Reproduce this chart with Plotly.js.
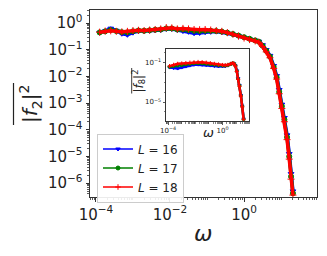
<!DOCTYPE html>
<html>
<head>
<meta charset="utf-8">
<script src="https://cdn.plot.ly/plotly-3.0.1.min.js"></script>
<style>html,body{margin:0;padding:0;background:#fff;}#chart{width:327px;height:256px;}</style>
</head>
<body>
<div id="chart"></div>
<script>
// ---- Data ----
const seriesNames = ["<i>L</i> = 16", "<i>L</i> = 17", "<i>L</i> = 18"];
const seriesColors = ["#0000ff", "#008000", "#ff0000"];

// main panel: omega
const omegaMain = [1.26e-4,1.78e-4,2.51e-4,3.55e-4,5.01e-4,7.08e-4,1.0e-3,1.41e-3,2.0e-3,2.82e-3,3.98e-3,5.62e-3,7.94e-3,1.12e-2,1.58e-2,2.24e-2,3.16e-2,4.47e-2,6.31e-2,8.91e-2,0.126,0.178,0.251,0.355,0.501,0.708,1.0,1.41,2.0,2.51,3.16,3.98,5.01,6.31,7.59,8.91,10.5,12.3,14.5,16.6,18.6,20.9];
// |f_2|^2 for L = 16, 17, 18
const f2L16 = [0.437,0.501,0.631,0.525,0.398,0.363,0.437,0.501,0.501,0.513,0.537,0.550,0.603,0.603,0.550,0.501,0.468,0.417,0.427,0.457,0.468,0.479,0.457,0.417,0.372,0.331,0.288,0.251,0.224,0.204,0.151,0.1,0.0603,0.0251,0.0105,0.00316,0.000891,0.000282,6.31e-5,1.26e-5,2.24e-6,5.01e-7];
const f2L17 = [0.447,0.490,0.550,0.501,0.457,0.447,0.490,0.525,0.513,0.537,0.562,0.575,0.631,0.631,0.575,0.575,0.550,0.513,0.501,0.513,0.513,0.501,0.479,0.437,0.389,0.339,0.295,0.257,0.224,0.200,0.141,0.0912,0.0550,0.0224,0.00912,0.00263,0.000759,0.000240,5.25e-5,1.0e-5,1.78e-6,4.17e-7];
const f2L18 = [0.457,0.501,0.513,0.490,0.468,0.490,0.525,0.537,0.525,0.550,0.575,0.603,0.676,0.661,0.603,0.631,0.603,0.575,0.562,0.575,0.550,0.525,0.490,0.437,0.380,0.324,0.275,0.240,0.214,0.191,0.132,0.0832,0.0501,0.0200,0.00794,0.00224,0.000631,0.000200,4.27e-5,7.94e-6,1.41e-6,3.55e-7];

// inset: omega and |f_8|^2
const omegaInset = [1.26e-4,2.51e-4,5.01e-4,1.0e-3,2.0e-3,3.98e-3,7.94e-3,0.0158,0.0316,0.0631,0.126,0.251,0.501,1.0,1.58,2.51,3.98,5.62,7.08,8.91,11.2,14.1,17.8,22.4,28.2,35.5];
const f8L16 = [0.0316,0.0282,0.0251,0.0316,0.0398,0.0501,0.0603,0.0631,0.0603,0.0562,0.0501,0.0447,0.0417,0.0417,0.0437,0.0501,0.0708,0.0891,0.0794,0.0501,0.0158,0.00251,5.01e-4,5.01e-5,3.98e-6,2.0e-7];
const f8L17 = [0.0380,0.0447,0.0501,0.0562,0.0661,0.0759,0.0871,0.0891,0.0851,0.0794,0.0708,0.0631,0.0562,0.0501,0.0501,0.0550,0.0724,0.0891,0.0794,0.0479,0.0141,0.00224,4.47e-4,4.47e-5,3.55e-6,1.78e-7];
const f8L18 = [0.0447,0.0603,0.0759,0.0832,0.0912,0.1,0.110,0.117,0.112,0.1,0.0891,0.0759,0.0661,0.0575,0.0550,0.0603,0.0759,0.0891,0.0759,0.0447,0.0126,0.00200,3.98e-4,3.98e-5,3.16e-6,1.58e-7];

// tick labels
const xTickVals = [1e-4,1e-2,1];
const xTickText = ["10<sup>\u22124</sup>","10<sup>\u22122</sup>","10<sup>0</sup>"];
const yTickVals = [1e-6,1e-5,1e-4,1e-3,1e-2,1e-1,1];
const yTickText = ["10<sup>\u22126</sup>","10<sup>\u22125</sup>","10<sup>\u22124</sup>","10<sup>\u22123</sup>","10<sup>\u22122</sup>","10<sup>\u22121</sup>","10<sup>0</sup>"];
const insetXTickVals = [1e-4,1];
const insetXTickText = ["10<sup>\u22124</sup>","10<sup>0</sup>"];
const insetYTickVals = [1e-5,1e-1];
const insetYTickText = ["10<sup>\u22125</sup>","10<sup>\u22121</sup>"];

// ---- minor tick positions (m x 10^k, skipping labelled majors) ----
function minorTicks(k0, k1, subs, skip) {
  const v = [];
  for (let k = k0; k <= k1; k++) for (const m of subs) {
    const t = m * Math.pow(10, k);
    if (!(m === 1 && skip.indexOf(k) >= 0)) v.push(t);
  }
  return v;
}
const allSubs = [1,2,3,4,5,6,7,8,9];

const mainY = [f2L16, f2L17, f2L18];
const insetY = [f8L16, f8L17, f8L18];
const symbols = ["triangle-down", "circle", "cross-thin"];

const traces = [];
for (let i = 0; i < 3; i++) {
  traces.push({
    x: omegaMain, y: mainY[i], name: seriesNames[i], showlegend: false,
    type: "scatter", mode: "lines+markers",
    line: {color: seriesColors[i], width: 3.5},
    marker: {color: seriesColors[i], size: 5, symbol: symbols[i], line: {color: seriesColors[i], width: 1}},
    xaxis: "x", yaxis: "y"
  });
}
for (let i = 0; i < 3; i++) {
  traces.push({
    x: omegaInset, y: insetY[i], name: seriesNames[i], showlegend: false,
    type: "scatter", mode: "lines+markers",
    line: {color: seriesColors[i], width: 2.5},
    marker: {color: seriesColors[i], size: 3, symbol: symbols[i], line: {color: seriesColors[i], width: 1}},
    xaxis: "x2", yaxis: "y2"
  });
}
// legend-only entries (thin line + small marker, as in the reference legend)
for (let i = 0; i < 3; i++) {
  traces.push({
    x: [null], y: [null], name: seriesNames[i], showlegend: true,
    type: "scatter", mode: "lines+markers",
    line: {color: seriesColors[i], width: 1.5},
    marker: {color: seriesColors[i], size: 4, symbol: symbols[i], line: {color: seriesColors[i], width: 1}},
    xaxis: "x", yaxis: "y"
  });
}

const axColor = "#333333";
const font = "DejaVu Sans";

const W = 327, H = 256, mL = 90, mR = 10, mT = 10, mB = 59;
const pw = W - mL - mR, ph = H - mT - mB;
const px = v => (v - mL) / pw;
const py = v => (H - mB - v) / ph;

const layout = {
  width: W, height: H,
  margin: {l: mL, r: mR, t: mT, b: mB, pad: 0},
  paper_bgcolor: "#fff", plot_bgcolor: "#fff",
  font: {family: font, color: "#222", size: 12},
  showlegend: true,
  legend: {
    x: px(97), y: py(133.5), xanchor: "left", yanchor: "top",
    bgcolor: "rgba(255,255,255,0.9)", bordercolor: "#cccccc", borderwidth: 1,
    font: {family: font, size: 12, color: "#222"},
    itemwidth: 30, tracegroupgap: 0
  },
  xaxis: {
    type: "log", range: [-4.16, 1.97], domain: [0, 1], anchor: "y",
    showline: true, mirror: true, linecolor: axColor, linewidth: 1,
    showgrid: false, zeroline: false,
    ticks: "outside", ticklen: 3.5, tickwidth: 1, tickcolor: axColor,
    tickmode: "array", tickvals: xTickVals, ticktext: xTickText,
    tickfont: {family: font, size: 15, color: "#222"},
    minor: {tickmode: "array", tickvals: minorTicks(-5, 1, allSubs, [-4, -2, 0]), ticks: "outside", ticklen: 2, tickwidth: 0.8, tickcolor: axColor, showgrid: false}
  },
  yaxis: {
    type: "log", range: [-6.52, 0.49], domain: [0, 1], anchor: "x",
    showline: true, mirror: true, linecolor: axColor, linewidth: 1,
    showgrid: false, zeroline: false,
    ticks: "outside", ticklen: 3.5, tickwidth: 1, tickcolor: axColor,
    tickmode: "array", tickvals: yTickVals, ticktext: yTickText,
    tickfont: {family: font, size: 15, color: "#222"},
    minor: {tickmode: "array", tickvals: minorTicks(-7, 0, [2,3,4,5,6,7,8,9], []), ticks: "outside", ticklen: 2, tickwidth: 0.8, tickcolor: axColor, showgrid: false}
  },
  xaxis2: {
    type: "log", range: [-4.16, 1.97], domain: [px(166), px(249.3)], anchor: "y2",
    showline: true, mirror: true, linecolor: axColor, linewidth: 1,
    showgrid: false, zeroline: false,
    ticks: "outside", ticklen: 2.5, tickwidth: 0.8, tickcolor: axColor,
    tickmode: "array", tickvals: insetXTickVals, ticktext: insetXTickText,
    tickfont: {family: font, size: 7, color: "#222"},
    minor: {tickmode: "array", tickvals: minorTicks(-5, 1, allSubs, [-4, 0]), ticks: "outside", ticklen: 1.5, tickwidth: 0.6, tickcolor: axColor, showgrid: false}
  },
  yaxis2: {
    type: "log", range: [-6.93, 0.42], domain: [py(121), py(48.7)], anchor: "x2",
    showline: true, mirror: true, linecolor: axColor, linewidth: 1,
    showgrid: false, zeroline: false,
    ticks: "outside", ticklen: 2.5, tickwidth: 0.8, tickcolor: axColor,
    tickmode: "array", tickvals: insetYTickVals, ticktext: insetYTickText,
    tickfont: {family: font, size: 7, color: "#222"},
    minor: {tickmode: "array", tickvals: minorTicks(-7, 0, [1], [-5, -1]), ticks: "outside", ticklen: 1.5, tickwidth: 0.6, tickcolor: axColor, showgrid: false}
  },
  annotations: [
    {text: "<i>\u03c9</i>", xref: "paper", yref: "paper", x: px(203), y: py(234),
     xanchor: "center", yanchor: "middle", showarrow: false, font: {family: font, size: 22, color: "#222"}},
    {text: "|<i>f</i><sub>2</sub>|<sup>2</sup>", xref: "paper", yref: "paper", x: px(30), y: py(104),
     xanchor: "center", yanchor: "middle", textangle: -90, showarrow: false, font: {family: font, size: 20, color: "#222"}},
    {text: "<i>\u03c9</i>", xref: "paper", yref: "paper", x: px(208), y: py(132),
     xanchor: "center", yanchor: "middle", showarrow: false, font: {family: font, size: 13, color: "#222"}},
    {text: "|<i>f</i><sub>8</sub>|<sup>2</sup>", xref: "paper", yref: "paper", x: px(138.5), y: py(81),
     xanchor: "center", yanchor: "middle", textangle: -90, showarrow: false, font: {family: font, size: 12, color: "#222"}}
  ],
  shapes: [
    {type: "line", xref: "paper", yref: "paper", x0: px(13.5), x1: px(13.5), y0: py(125), y1: py(83), line: {color: "#222", width: 1.2}},
    {type: "line", xref: "paper", yref: "paper", x0: px(131.7), x1: px(131.7), y0: py(93.5), y1: py(68), line: {color: "#222", width: 0.9}}
  ]
};

Plotly.newPlot("chart", traces, layout, {staticPlot: true, displayModeBar: false});
</script>
</body>
</html>
